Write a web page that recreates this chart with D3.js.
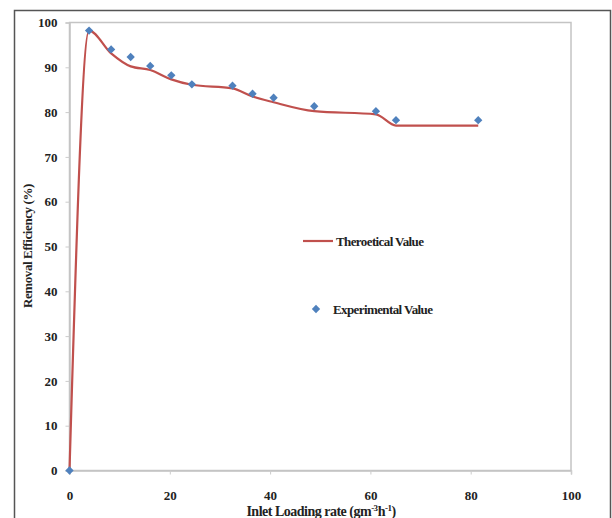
<!DOCTYPE html>
<html><head><meta charset="utf-8">
<script src="https://cdn.jsdelivr.net/npm/d3@7"></script>
<style>body{margin:0;background:#fff}svg{display:block}text{font-family:"Liberation Serif","Times New Roman",serif;font-weight:bold;fill:#222}</style>
</head><body>
<script>
const loading = [0, 3.9, 8.3, 12.2, 16.1, 20.3, 24.4, 32.5, 36.5, 40.7, 48.8, 61.1, 65.1, 81.5];
const experimental = [0, 98.2, 94.0, 92.3, 90.3, 88.2, 86.2, 85.9, 84.1, 83.2, 81.3, 80.2, 78.2, 78.2];
const theoretical = [0, 98.2, 93.1, 90.2, 89.4, 87.3, 86.1, 85.3, 83.5, 82.2, 80.2, 79.5, 77.0, 77.0];
const xTicks = [0, 20, 40, 60, 80, 100];
const yTicks = [0, 10, 20, 30, 40, 50, 60, 70, 80, 90, 100];

const W = 612, H = 518;
const svg = d3.select("body").append("svg").attr("width", W).attr("height", H);
svg.append("rect").attr("x", 14.5).attr("y", 10.5).attr("width", 596).attr("height", 520)
  .attr("fill", "#fff").attr("stroke", "#555").attr("stroke-width", 1.5);

const x = d3.scaleLinear().domain([0, 100]).range([69.5, 571]);
const y = d3.scaleLinear().domain([0, 100]).range([470.5, 22.5]);

// plot frame
svg.append("rect").attr("x", x(0)).attr("y", y(100)).attr("width", x(100) - x(0)).attr("height", y(0) - y(100))
  .attr("fill", "none").attr("stroke", "#c4c4c4").attr("stroke-width", 1.5);

// y axis
const gy = svg.append("g").attr("transform", `translate(${x(0)},0)`)
  .call(d3.axisLeft(y).tickValues(yTicks).tickSize(4).tickPadding(8));
gy.select(".domain").attr("stroke", "#c4c4c4").attr("stroke-width", 1.5);
gy.selectAll(".tick line").attr("stroke", "#ccc");
gy.selectAll(".tick text").style("font-size", "13px").style("font-family", "Liberation Serif").style("font-weight", "bold").attr("fill", "#222");

// x axis
const gx = svg.append("g").attr("transform", `translate(0,${y(0)})`)
  .call(d3.axisBottom(x).tickValues(xTicks).tickSize(4).tickPadding(16));
gx.select(".domain").attr("stroke", "#c4c4c4").attr("stroke-width", 1.5);
gx.selectAll(".tick line").attr("stroke", "#ccc");
gx.selectAll(".tick text").style("font-size", "13px").style("font-family", "Liberation Serif").style("font-weight", "bold").attr("fill", "#222");

// line
const pts = loading.map((d, i) => [d, theoretical[i]]);
svg.append("path").datum(pts)
  .attr("fill", "none").attr("stroke", "#C0504D").attr("stroke-width", 2.2)
  .attr("d", d3.line().x(d => x(d[0])).y(d => y(d[1])).curve(d3.curveMonotoneX));

// markers
const sym = d3.symbol().type(d3.symbolDiamond2).size(44);
svg.append("g").selectAll("path").data(loading.map((d, i) => [d, experimental[i]])).join("path")
  .attr("d", sym).attr("fill", "#4F81BD")
  .attr("transform", d => `translate(${x(d[0])},${y(d[1])})`);

// legend
svg.append("line").attr("x1", 303).attr("x2", 333).attr("y1", 241).attr("y2", 241)
  .attr("stroke", "#C0504D").attr("stroke-width", 2.2);
svg.append("text").attr("x", 336).attr("y", 245.5).style("font-size", "13px").style("letter-spacing", "-0.6px").text("Theroetical Value");
svg.append("path").attr("d", sym).attr("fill", "#4F81BD").attr("transform", "translate(316,309)");
svg.append("text").attr("x", 333).attr("y", 313.5).style("font-size", "13px").style("letter-spacing", "-0.6px").text("Experimental Value");

// axis titles
svg.append("text").attr("x", 321).attr("y", 516).attr("text-anchor", "middle").style("font-size", "14px").style("letter-spacing", "-0.5px")
  .html('Inlet Loading rate (gm<tspan dy="-5" font-size="9px">-3</tspan><tspan dy="5">h</tspan><tspan dy="-5" font-size="9px">-1</tspan><tspan dy="5">)</tspan>');
svg.append("text").attr("transform", "translate(32,246) rotate(-90)").attr("text-anchor", "middle").style("font-size", "13px").style("letter-spacing", "-0.4px")
  .text("Removal Efficiency (%)");
</script>
</body></html>
